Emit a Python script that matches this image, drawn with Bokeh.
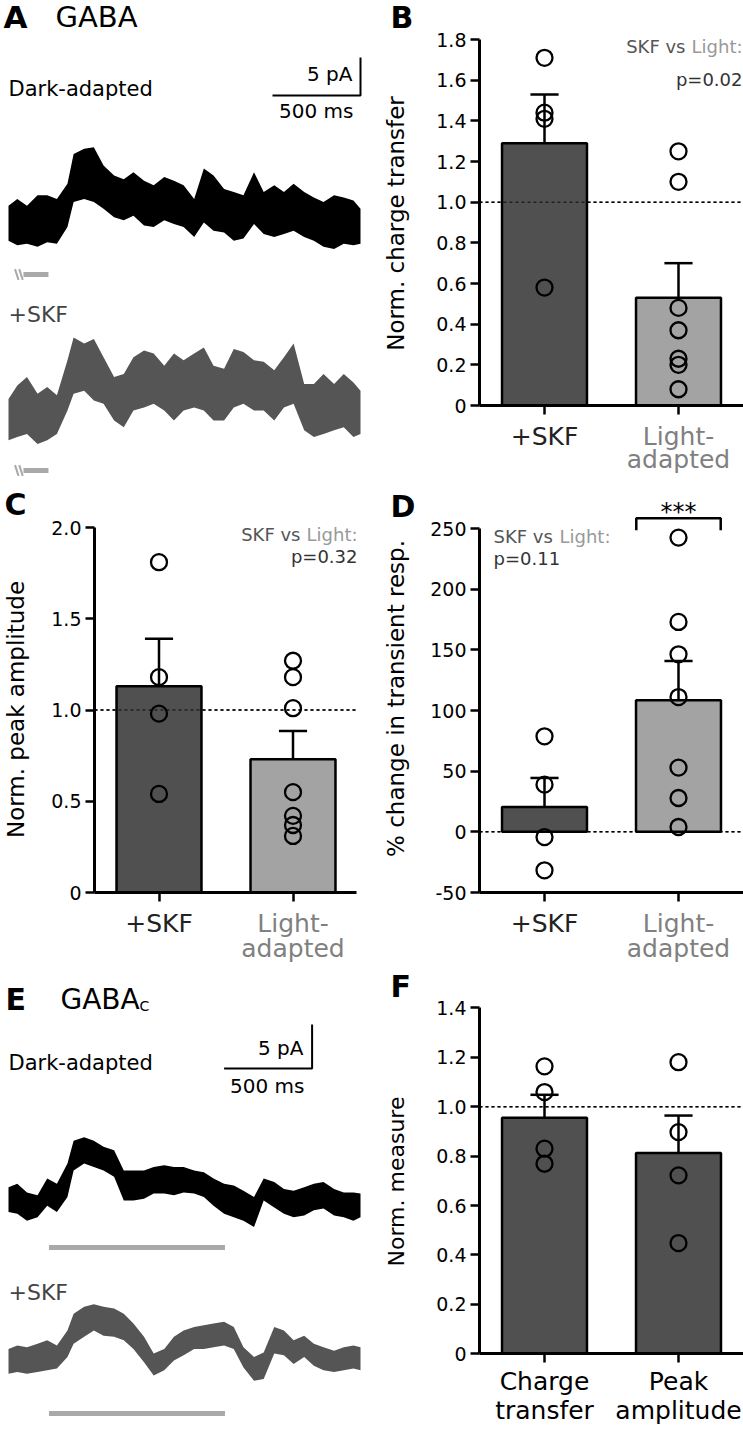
from math import pi
from bokeh.plotting import figure
from bokeh.models import Range1d, Label, FixedTicker, LinearAxis
from bokeh.layouts import row, column
from bokeh.embed import file_html
from bokeh.resources import INLINE

FONT = "DejaVu Sans"
DARK_BAR = "#505050"
LIGHT_BAR = "#a3a3a3"
STIM_GRAY = "#a9a9a9"
SKF_TRACE = "#555555"

# ---------------- data ----------------
# recorded traces (envelope of the noisy current, pA) sampled in time (ms)
trace_t_ms = [0, 50, 105, 165, 220, 275, 335, 370, 430, 485, 540, 600, 655, 710, 770, 825,
              885, 940, 995, 1055, 1110, 1165, 1225, 1280, 1335, 1395, 1450, 1510, 1565,
              1620, 1680, 1735, 1790, 1850, 1905, 1960, 2000]
gaba_dark_hi = [2.2, 3.1, 2.2, 3.6, 3.6, 3.1, 5.1, 9.0, 9.7, 9.9, 7.5, 6.2, 5.7, 6.6, 5.5, 4.9,
                6.0, 5.5, 4.9, 3.1, 7.1, 6.2, 4.4, 4.0, 3.6, 6.6, 4.0, 4.9, 4.0, 5.1, 4.0, 3.3,
                2.7, 3.6, 3.3, 2.9, 1.8]
gaba_dark_lo = [-2.4, -3.0, -2.8, -3.2, -2.6, -2.8, -0.6, 2.7, 3.1, 2.7, 1.8, 0.7, 0.3, 0.9,
                -0.4, -0.6, 0.3, -0.2, -0.6, -1.9, 0.0, -1.1, -1.3, -2.4, -2.1, -0.2, -1.5,
                -1.9, -1.5, -1.1, -1.9, -2.4, -3.2, -3.5, -2.8, -3.0, -2.8]
gaba_skf_hi = [1.5, 3.3, 4.4, 2.2, 3.1, 2.0, 6.6, 9.6, 8.8, 9.4, 7.0, 4.4, 4.8, 7.0, 7.9, 7.5,
               5.9, 7.5, 6.6, 7.5, 8.3, 5.9, 5.5, 8.1, 7.7, 6.6, 6.4, 5.3, 7.0, 8.8, 3.5, 3.5,
               4.8, 3.5, 4.8, 3.7, 2.6]
gaba_skf_lo = [-3.9, -3.5, -3.1, -4.4, -3.9, -3.1, 0.0, 2.2, 2.6, 1.3, 0.9, -1.3, -2.2, 0.0,
               0.4, 0.9, 0.0, -1.3, 0.0, 0.4, 0.0, -1.3, -1.3, 0.4, 0.9, 0.0, 0.0, -1.3, 0.4,
               0.9, -2.6, -3.5, -3.1, -2.6, -2.2, -3.5, -3.1]
gabac_dark_hi = [1.5, 1.9, 0.9, 0.6, 2.5, 1.9, 4.2, 6.8, 7.2, 6.8, 6.1, 5.7, 3.4, 3.4, 3.4, 3.8,
                 4.0, 3.8, 3.8, 3.4, 3.2, 2.5, 1.9, 1.7, 1.1, 0.4, 2.5, 2.1, 1.3, 1.1, 1.5, 1.9,
                 2.1, 1.3, 0.9, 0.9, 0.8]
gabac_dark_lo = [-1.3, -1.5, -2.3, -1.9, -0.6, -1.3, 0.4, 3.4, 4.2, 3.8, 3.4, 2.7, 0.0, 0.0,
                 0.2, 0.8, 0.8, 0.6, 0.9, 0.8, 0.4, -0.6, -1.5, -1.9, -2.3, -3.0, 0.0, -0.8,
                 -1.5, -1.9, -1.7, -1.1, -0.9, -1.7, -1.9, -2.3, -1.9]
gabac_skf_hi = [1.3, 1.7, 1.5, 1.9, 2.3, 1.7, 3.4, 5.3, 6.1, 6.4, 6.1, 5.9, 5.3, 4.2, 2.7, 0.8,
                1.3, 2.7, 3.4, 3.8, 4.0, 4.2, 4.4, 3.8, 1.5, 0.4, 0.9, 3.8, 3.4, 2.3, 2.8, 1.9,
                1.5, 1.1, 1.5, 1.7, 1.5]
gabac_skf_lo = [-1.5, -1.3, -1.5, -1.3, -1.1, -0.9, 0.4, 1.9, 2.7, 3.4, 2.8, 2.7, 2.3, 1.3,
                -0.2, -1.7, -1.1, 0.0, 0.6, 1.3, 1.3, 1.5, 1.7, 1.3, -0.8, -2.3, -2.1, 0.8, 0.6,
                -0.4, 0.4, -0.6, -1.1, -1.3, -1.1, -0.9, -1.1]
stim_A_ms = [85, 227]
stim_E_ms = [230, 1230]
scalebar_ms = 500
scalebar_pA = 5

categories = ["+SKF", "Light-\nadapted"]
category_colors = ["#222222", "#808080"]
categories_F = ["Charge\ntransfer", "Peak\namplitude"]

# B: normalized charge transfer
b_mean = [1.29, 0.53]
b_sem = [0.24, 0.17]
b_skf = [1.71, 1.44, 1.41, 0.58]
b_light = [1.25, 1.10, 0.48, 0.37, 0.23, 0.20, 0.08]
b_ticks = [0, 0.2, 0.4, 0.6, 0.8, 1.0, 1.2, 1.4, 1.6, 1.8]
b_tick_labels = ["0", "0.2", "0.4", "0.6", "0.8", "1.0", "1.2", "1.4", "1.6", "1.8"]

# C: normalized peak amplitude
c_mean = [1.13, 0.73]
c_sem = [0.26, 0.155]
c_skf = [1.81, 1.18, 0.98, 0.54]
c_light = [1.27, 1.18, 1.01, 0.55, 0.42, 0.37, 0.31]
c_ticks = [0, 0.5, 1.0, 1.5, 2.0]
c_tick_labels = ["0", "0.5", "1.0", "1.5", "2.0"]

# D: % change in transient response
d_mean = [20.4, 108.4]
d_sem = [24.0, 32.4]
d_skf = [78.7, 38.9, -4.3, -31.7]
d_light = [242.5, 173.0, 146.3, 111.1, 52.9, 27.9, 4.0]
d_ticks = [-50, 0, 50, 100, 150, 200, 250]
d_tick_labels = ["-50", "0", "50", "100", "150", "200", "250"]

# F: GABA-C normalized measures
f_mean = [0.955, 0.812]
f_sem = [0.093, 0.152]
f_charge = [1.163, 1.059, 0.83, 0.769]
f_peak = [1.18, 0.897, 0.722, 0.448]
f_ticks = [0, 0.2, 0.4, 0.6, 0.8, 1.0, 1.2, 1.4]
f_tick_labels = ["0", "0.2", "0.4", "0.6", "0.8", "1.0", "1.2", "1.4"]


# ---------------- helpers ----------------
def lin(p0, v0, p1, v1, p):
    return v0 + (p - p0) * (v1 - v0) / (p1 - p0)


class Box:
    def __init__(self, left, top, w, h):
        self.left, self.top, self.w, self.h = left, top, w, h
        self.bottom = top + h


BOXES = {}
EXTENT = {}
BASELINE_FIX = 0.38  # em offset between requested and drawn alphabetic baseline


def canvas(box, xr, yr):
    p = figure(width=box.w, height=box.h, x_range=Range1d(*xr), y_range=Range1d(*yr),
               output_backend="svg", toolbar_location=None,
               x_axis_location=None, y_axis_location=None, min_border=0,
               frame_align=False)
    p.outline_line_color = None
    p.grid.visible = False
    p.background_fill_color = "white"
    p.border_fill_color = "white"
    BOXES[id(p)] = box
    return p


def txt(p, px, py, text, size, color="black", align="left", bold=False, angle=0.0,
        xdata=None):
    b = BOXES[id(p)]
    if angle == 0.0:
        py = py - BASELINE_FIX * size
    else:
        px = px - BASELINE_FIX * size
    kw = dict(text=text, text_font=FONT, text_font_size=f"{size}px", text_color=color,
              text_align=align, text_baseline="alphabetic", angle=angle,
              text_font_style="bold" if bold else "normal")
    if xdata is None:
        lab = Label(x=px - b.left, y=b.bottom - py, x_units="screen", y_units="screen", **kw)
    else:
        lab = Label(x=xdata, y=b.bottom - py, x_units="data", y_units="screen", **kw)
    p.add_layout(lab)


def style_axis(ax):
    ax.axis_line_width = 3
    ax.axis_line_color = "black"
    ax.major_tick_line_width = 2.5
    ax.major_tick_line_color = "black"
    ax.major_tick_out = 9
    ax.major_tick_in = 0
    ax.minor_tick_line_color = None
    ax.major_label_standoff = 4
    ax.major_label_text_font = FONT
    ax.major_label_text_font_size = "19px"
    ax.major_label_text_color = "black"


def barfig(box, cx0, cx1, axis_x, right_x, yp0, yv0, yp1, yv1, ticks, tick_labels,
           xaxis_at, ybounds):
    # cx0/cx1: page x of category 0 / 1 centres; yp/yv: two page-y <-> value anchors
    xr = (lin(cx0, 0, cx1, 1, box.left), lin(cx0, 0, cx1, 1, box.left + box.w))
    yr = (lin(yp0, yv0, yp1, yv1, box.bottom), lin(yp0, yv0, yp1, yv1, box.top))
    p = canvas(box, xr, yr)
    xa = lin(cx0, 0, cx1, 1, axis_x)
    xe = lin(cx0, 0, cx1, 1, right_x)
    yax = LinearAxis(fixed_location=xa, bounds=ybounds, ticker=FixedTicker(ticks=ticks),
                     major_label_overrides=dict(zip(ticks, tick_labels)))
    xax = LinearAxis(fixed_location=xaxis_at, bounds=(xa, xe), ticker=FixedTicker(ticks=[0, 1]),
                     major_label_overrides={0: "", 1: ""})
    style_axis(yax)
    style_axis(xax)
    p.add_layout(yax, "left")
    p.add_layout(xax, "below")
    EXTENT[id(p)] = (xa, xe)
    return p


def bars(p, means, sems, pts0, pts1, colors, ref=None):
    xa, xe = EXTENT[id(p)]
    xs = [0, 1]
    if ref is not None:
        p.segment(x0=[xa], y0=[ref], x1=[xe], y1=[ref], line_color="black",
                  line_width=1.5, line_dash="3 3")
    p.vbar(x=xs, top=means, width=0.634, fill_color=colors, line_color="black",
           line_width=2.5)
    if ref is not None:
        p.segment(x0=[xa], y0=[ref], x1=[xe], y1=[ref], line_color="black",
                  line_width=1.5, line_dash="3 3", line_alpha=0.6)
    tops = [m + s for m, s in zip(means, sems)]
    p.segment(x0=xs, y0=means, x1=xs, y1=tops, line_color="black", line_width=2.5)
    p.segment(x0=[x - 0.105 for x in xs], y0=tops, x1=[x + 0.105 for x in xs], y1=tops,
              line_color="black", line_width=2.5)
    p.scatter(x=[0] * len(pts0) + [1] * len(pts1), y=list(pts0) + list(pts1), size=16,
              marker="circle", fill_color=None, line_color="black", line_width=2.3)


def cat_labels(p, axis_py, labels, colors, off1, off2, size=25):
    for i, (lab, col) in enumerate(zip(labels, colors)):
        for j, line in enumerate(lab.split("\n")):
            off = off1 if j == 0 else off2
            txt(p, 0, axis_py + off, line, size, color=col, align="center", xdata=i)


def draw_trace(p, t, lo, hi, offset, color):
    p.varea(x=t, y1=[v + offset for v in lo], y2=[v + offset for v in hi],
            fill_color=color)


def stim(p, t0, t1, y, breaks=False):
    p.segment(x0=[t0], y0=[y], x1=[t1], y1=[y], line_color=STIM_GRAY, line_width=5)
    if breaks:
        p.segment(x0=[t0 - 48, t0 - 24], y0=[y + 0.7, y + 0.7], x1=[t0 - 28, t0 - 4],
                  y1=[y - 0.7, y - 0.7], line_color=STIM_GRAY, line_width=2)


def scalebar(p, t_right, y0):
    p.line(x=[t_right - scalebar_ms, t_right, t_right], y=[y0, y0, y0 + scalebar_pA],
           line_color="black", line_width=2)


PX_PER_MS = 0.176
T0_PX = 8.0  # page x of t = 0


def trace_canvas(box, base_py, px_per_pa):
    xr = ((box.left - T0_PX) / PX_PER_MS, (box.left + box.w - T0_PX) / PX_PER_MS)
    yr = ((base_py - box.bottom) / px_per_pa, (base_py - box.top) / px_per_pa)
    return canvas(box, xr, yr)


ROW1_TOP, ROW2_TOP, ROW3_TOP, PAGE_H = 0, 480, 966, 1452

# ---------------- Panel A ----------------
A_PX_PA, A_BASE = 7.6, 222.0
figA = trace_canvas(Box(0, ROW1_TOP, 370, ROW2_TOP - ROW1_TOP), A_BASE, A_PX_PA)
offA2 = (A_BASE - 410) / A_PX_PA
draw_trace(figA, trace_t_ms, gaba_dark_lo, gaba_dark_hi, 0.0, "black")
draw_trace(figA, trace_t_ms, gaba_skf_lo, gaba_skf_hi, offA2, SKF_TRACE)
stim(figA, stim_A_ms[0], stim_A_ms[1], (A_BASE - 274) / A_PX_PA, breaks=True)
stim(figA, stim_A_ms[0], stim_A_ms[1], (A_BASE - 470) / A_PX_PA, breaks=True)
scalebar(figA, 2000, (A_BASE - 95) / A_PX_PA)
txt(figA, 3, 28, "A", 31, bold=True)
txt(figA, 55, 28, "GABA", 29)
txt(figA, 8, 96, "Dark-adapted", 21)
txt(figA, 352, 81, "5 pA", 20, align="right")
txt(figA, 353, 118, "500 ms", 20, align="right")
txt(figA, 8, 322, "+SKF", 22, color="#444444")

# ---------------- Panel B ----------------
figB = barfig(Box(370, ROW1_TOP, 373, ROW2_TOP - ROW1_TOP), 544, 678, 479, 743,
              405, 0.0, 39, 1.8, b_ticks, b_tick_labels, 0.0, (0, 1.8))
bars(figB, b_mean, b_sem, b_skf, b_light, [DARK_BAR, LIGHT_BAR], ref=1.0)
txt(figB, 390, 28, "B", 30, bold=True)
txt(figB, 404, 223, "Norm. charge transfer", 23, align="center", angle=pi / 2)
txt(figB, 742, 53, "Light:", 18, color="#999999", align="right")
txt(figB, 685, 53, "SKF vs", 18, color="#555555", align="right")
txt(figB, 742, 86, "p=0.02", 18, color="#333333", align="right")
cat_labels(figB, 405, categories, category_colors, 40, 63)

# ---------------- Panel C ----------------
figC = barfig(Box(0, ROW2_TOP, 370, ROW3_TOP - ROW2_TOP), 158.5, 292.5, 94, 356,
              892, 0.0, 527, 2.0, c_ticks, c_tick_labels, 0.0, (0, 2.0))
bars(figC, c_mean, c_sem, c_skf, c_light, [DARK_BAR, LIGHT_BAR], ref=1.0)
txt(figC, 4, 515, "C", 30, bold=True)
txt(figC, 24, 709, "Norm. peak amplitude", 23, align="center", angle=pi / 2)
txt(figC, 357, 541, "Light:", 18, color="#999999", align="right")
txt(figC, 300, 541, "SKF vs", 18, color="#555555", align="right")
txt(figC, 357, 563, "p=0.32", 18, color="#333333", align="right")
cat_labels(figC, 892, categories, category_colors, 40, 65)

# ---------------- Panel D ----------------
figD = barfig(Box(370, ROW2_TOP, 373, ROW3_TOP - ROW2_TOP), 544, 678, 479, 743,
              892, -50.0, 528, 250.0, d_ticks, d_tick_labels, -50.0, (-50, 250))
bars(figD, d_mean, d_sem, d_skf, d_light, [DARK_BAR, LIGHT_BAR], ref=0.0)
figD.line(x=[1 - 0.315, 1 - 0.315, 1 + 0.315, 1 + 0.315], y=[248.5, 258.4, 258.4, 248.5],
          line_color="black", line_width=2.5)
txt(figD, 390, 517, "D", 30, bold=True)
txt(figD, 404, 698, "% change in transient resp.", 23, align="center", angle=pi / 2)
txt(figD, 493, 543, "SKF vs", 18, color="#555555")
txt(figD, 559, 543, "Light:", 18, color="#999999")
txt(figD, 493, 565, "p=0.11", 18, color="#333333")
txt(figD, 0, 521, "***", 24, align="center", xdata=1)
cat_labels(figD, 892, categories, category_colors, 40, 65)

# ---------------- Panel E ----------------
E_PX_PA, E_BASE = 8.8, 1200.0
figE = trace_canvas(Box(0, ROW3_TOP, 370, PAGE_H - ROW3_TOP), E_BASE, E_PX_PA)
offE2 = (E_BASE - 1360) / E_PX_PA
draw_trace(figE, trace_t_ms, gabac_dark_lo, gabac_dark_hi, 0.0, "black")
draw_trace(figE, trace_t_ms, gabac_skf_lo, gabac_skf_hi, offE2, SKF_TRACE)
stim(figE, stim_E_ms[0], stim_E_ms[1], (E_BASE - 1247) / E_PX_PA)
stim(figE, stim_E_ms[0], stim_E_ms[1], (E_BASE - 1413) / E_PX_PA)
scalebar(figE, 1725, (E_BASE - 1068) / E_PX_PA)
txt(figE, 5, 1010, "E", 30, bold=True)
txt(figE, 60, 1010, "GABA", 28)
txt(figE, 139, 1011, "C", 14)
txt(figE, 8, 1070, "Dark-adapted", 21)
txt(figE, 303, 1055, "5 pA", 20, align="right")
txt(figE, 304, 1093, "500 ms", 20, align="right")
txt(figE, 8, 1300, "+SKF", 22, color="#444444")

# ---------------- Panel F ----------------
figF = barfig(Box(370, ROW3_TOP, 373, PAGE_H - ROW3_TOP), 544, 678, 479, 743,
              1353.3, 0.0, 1007.3, 1.4, f_ticks, f_tick_labels, 0.0, (0, 1.4))
bars(figF, f_mean, f_sem, f_charge, f_peak, [DARK_BAR, DARK_BAR], ref=1.0)
txt(figF, 390, 997, "F", 30, bold=True)
txt(figF, 404, 1181, "Norm. measure", 22, align="center", angle=pi / 2)
cat_labels(figF, 1353.3, categories_F, ["black", "black"], 37, 66)

layout = column(row(figA, figB), row(figC, figD), row(figE, figF))
open("out.html", "w").write(file_html(layout, INLINE))
